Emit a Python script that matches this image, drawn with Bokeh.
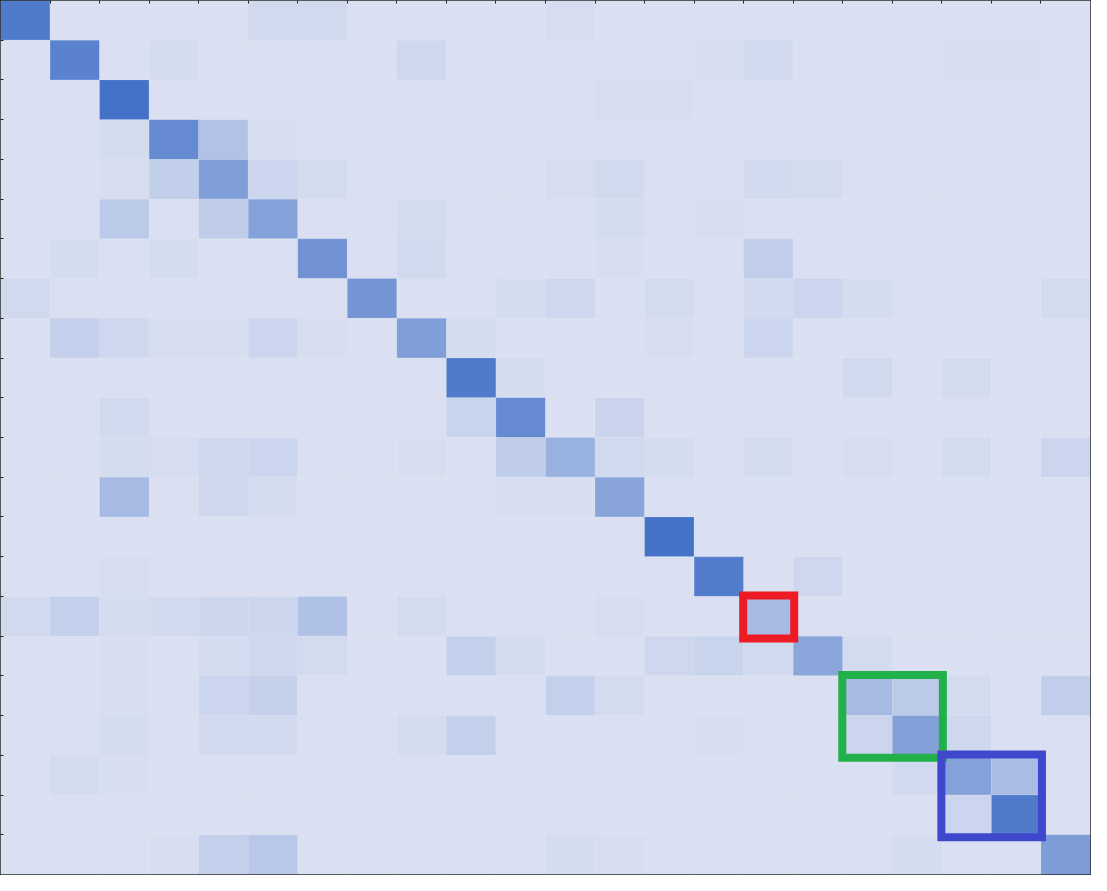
import numpy as np
from bokeh.plotting import figure
from bokeh.models import (ColumnDataSource, LinearColorMapper, FixedTicker,
                          Range1d, CustomJSTickFormatter)
from bokeh.embed import file_html
from bokeh.resources import INLINE

N = 22

# diagonal intensities (0 = background, 1 = darkest)
diag = [0.92, 0.85, 1.0, 0.78, 0.60, 0.57, 0.70, 0.68, 0.60, 0.92, 0.78,
        0.43, 0.55, 0.99, 0.90, 0.35, 0.53, 0.35, 0.58, 0.57, 0.92, 0.62]

# off-diagonal non-zero cells
off_rows = [0, 0, 0,
            1, 1, 1, 1, 1, 1,
            2, 2,
            3, 3, 3,
            4, 4, 4, 4, 4, 4, 4, 4,
            5, 5, 5, 5, 5,
            6, 6, 6, 6, 6,
            7, 7, 7, 7, 7, 7, 7, 7,
            8, 8, 8, 8, 8, 8, 8, 8, 8,
            9, 9, 9,
            10, 10, 10,
            11, 11, 11, 11, 11, 11, 11, 11, 11, 11, 11, 11,
            12, 12, 12, 12, 12,
            14, 14,
            15, 15, 15, 15, 15, 15, 15, 15, 15,
            16, 16, 16, 16, 16, 16, 16, 16, 16, 16,
            17, 17, 17, 17, 17, 17, 17, 17,
            18, 18, 18, 18, 18, 18, 18, 18,
            19, 19, 19, 19,
            20,
            21, 21, 21, 21, 21, 21]
off_cols = [5, 6, 11,
            3, 8, 14, 15, 19, 20,
            12, 13,
            2, 4, 5,
            2, 3, 5, 6, 11, 12, 15, 16,
            2, 4, 8, 12, 14,
            1, 3, 8, 12, 15,
            0, 10, 11, 13, 15, 16, 17, 21,
            1, 2, 3, 4, 5, 6, 9, 13, 15,
            10, 17, 19,
            2, 9, 12,
            2, 3, 4, 5, 8, 10, 12, 13, 15, 17, 19, 21,
            2, 4, 5, 10, 11,
            2, 16,
            0, 1, 2, 3, 4, 5, 6, 8, 12,
            2, 4, 5, 6, 9, 10, 13, 14, 15, 17,
            2, 4, 5, 11, 12, 18, 19, 21,
            2, 4, 5, 8, 9, 14, 17, 19,
            1, 2, 18, 20,
            19,
            3, 4, 5, 11, 12, 18]
off_vals = [0.07, 0.07, 0.03,
            0.04, 0.08, 0.02, 0.06, 0.02, 0.02,
            0.03, 0.02,
            0.04, 0.27, 0.03,
            0.02, 0.16, 0.10, 0.05, 0.03, 0.07, 0.06, 0.05,
            0.20, 0.18, 0.05, 0.04, 0.02,
            0.04, 0.04, 0.07, 0.02, 0.17,
            0.07, 0.04, 0.08, 0.05, 0.06, 0.10, 0.04, 0.05,
            0.15, 0.08, 0.03, 0.02, 0.10, 0.02, 0.04, 0.02, 0.10,
            0.04, 0.07, 0.05,
            0.06, 0.12, 0.11,
            0.04, 0.03, 0.08, 0.10, 0.02, 0.18, 0.07, 0.04, 0.05, 0.03, 0.05, 0.10,
            0.35, 0.08, 0.04, 0.02, 0.02,
            0.03, 0.08,
            0.07, 0.15, 0.04, 0.06, 0.09, 0.09, 0.28, 0.05, 0.03,
            0.02, 0.05, 0.08, 0.05, 0.15, 0.05, 0.08, 0.12, 0.06, 0.05,
            0.02, 0.10, 0.14, 0.15, 0.05, 0.20, 0.05, 0.17,
            0.04, 0.06, 0.06, 0.04, 0.15, 0.02, 0.10, 0.08,
            0.05, 0.02, 0.06, 0.33,
            0.10,
            0.02, 0.15, 0.22, 0.04, 0.02, 0.04]

# highlighted blocks: (first index, block size, colour)
hl_start = [15, 17, 19]
hl_size = [1, 2, 2]
hl_color = ["#ED1C24", "#22B04B", "#3F48CC"]

mat = np.zeros((N, N))
for i, v in enumerate(diag):
    mat[i, i] = v
for r, c, v in zip(off_rows, off_cols, off_vals):
    mat[r, c] = v

rr, cc = np.indices((N, N))
src = ColumnDataSource(dict(x=cc.ravel() + 0.5, y=rr.ravel() + 0.5,
                            v=mat.ravel()))

light = (218, 224, 241)
dark = (68, 114, 200)
palette = ['#%02x%02x%02x' % tuple(int(round(l + (d - l) * t))
                                   for l, d in zip(light, dark))
           for t in np.linspace(0, 1, 256)]
mapper = LinearColorMapper(palette=palette, low=0, high=1)

p = figure(width=1091, height=875, x_range=Range1d(0, N), y_range=Range1d(N, 0),
           output_backend="svg", toolbar_location=None,
           x_axis_location="above", min_border=0)
p.min_border_right = 1
p.min_border_bottom = 1

p.rect(x='x', y='y', width=1, height=1, source=src,
       fill_color={'field': 'v', 'transform': mapper},
       line_color="#eef2fb", line_alpha=0.15, line_width=1)

hs = np.array(hl_start, dtype=float)
hz = np.array(hl_size, dtype=float)
box_src = ColumnDataSource(dict(
    left=hs - 0.01, right=hs + hz + 0.02,
    top=hs - 0.02, bottom=hs + hz + 0.06,
    color=hl_color))
p.quad(left='left', right='right', top='top', bottom='bottom', source=box_src,
       fill_color=None, line_color='color', line_width=8, line_join="miter")

for ax in (p.xaxis[0], p.yaxis[0]):
    ax.ticker = FixedTicker(ticks=list(range(1, N)))
    ax.formatter = CustomJSTickFormatter(code="return ''")
    ax.major_label_text_font_size = "0px"
    ax.major_label_standoff = 0
    ax.major_tick_in = 3
    ax.major_tick_out = 0
    ax.major_tick_line_color = "#222222"
    ax.major_tick_line_width = 1
    ax.minor_tick_line_color = None
    ax.axis_line_color = None

p.grid.visible = False
p.outline_line_color = "#1c1c1c"
p.outline_line_width = 2
p.background_fill_color = "#dae0f1"
p.border_fill_color = "#1c1c1c"

open("out.html", "w").write(file_html(p, INLINE))
